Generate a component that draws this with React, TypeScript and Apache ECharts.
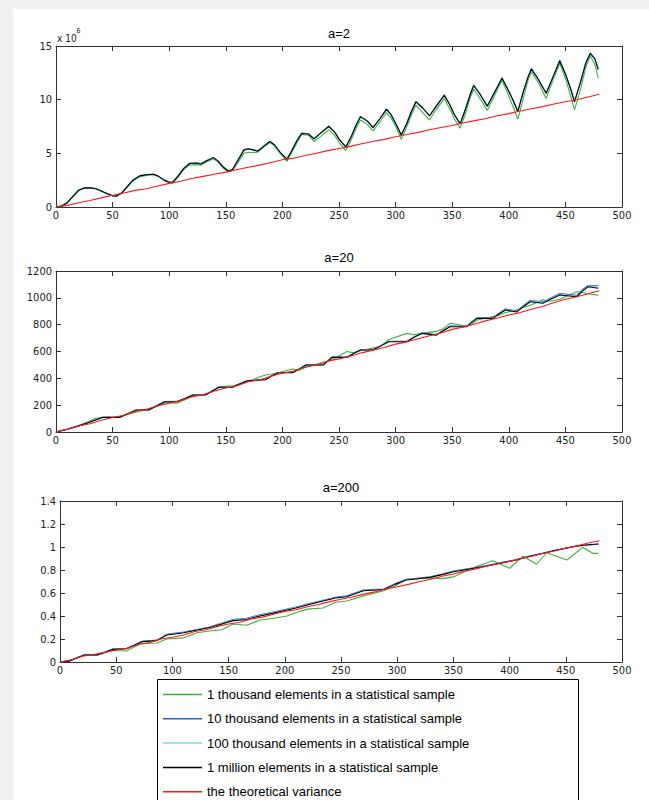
import React, { useEffect, useRef } from "react";
import * as echarts from "echarts";

// ---------- data ----------
const seriesNames = [
  "1 thousand elements in a statistical sample",
  "10 thousand elements in a statistical sample",
  "100 thousand elements in a statistical sample",
  "1 million elements in a statistical sample",
  "the theoretical variance",
];
const seriesColors = ["#3cb43c", "#2a5fd6", "#8ad4ec", "#000000", "#ff1a1a"];
const titles = ["a=2", "a=20", "a=200"];

const redX = [0,10,20,30,40,50,60,70,80,90,100,110,120,130,140,150,160,170,180,190,200,210,220,230,240,250,260,270,280,290,300,310,320,330,340,350,360,370,380,390,400,410,420,430,440,450,460,470,480];

// a = 2 (values x 10^6)
const a2X = [0,5,10,15,20,25,30,35,40,45,50,53,58,63,68,74,80,86,90,95,100,103,108,113,118,124,128,133,139,143,148,152,156,161,166,170,175,178,184,189,193,198,204,208,213,217,223,228,234,241,246,251,256,261,265,269,275,280,286,292,296,301,305,310,314,318,324,330,336,343,348,352,357,362,366,369,374,381,387,394,399,404,408,413,417,420,426,433,439,445,450,455,458,463,468,472,476,479];
const a2Green = [0,0.1,0.4,1.0,1.55,1.75,1.76,1.7,1.48,1.22,1.02,0.98,1.25,1.85,2.45,2.82,2.95,3.0,2.85,2.5,2.25,2.22,2.8,3.5,3.9,3.95,3.9,4.2,4.5,4.2,3.6,3.25,3.4,4.2,5.0,5.1,5.05,5.1,5.6,6.0,5.7,5.0,4.25,5.0,6.0,6.75,6.7,6.1,6.6,7.2,6.7,5.9,5.25,6.3,7.3,8.1,7.7,7.1,7.9,8.8,8.3,7.3,6.3,7.5,8.6,9.5,8.8,8.1,9.1,10.1,9.1,8.2,7.33,8.8,10.2,11.0,10.2,9.0,10.3,11.8,10.6,9.3,8.2,10.2,11.8,12.6,11.6,10.1,11.8,13.4,12.0,10.2,9.05,10.8,13.0,14.1,13.3,12.0];
const a2Blue = [0,0.1,0.42,1.02,1.57,1.8,1.8,1.7,1.48,1.24,1.04,1.0,1.32,1.92,2.52,2.92,3.02,3.05,2.88,2.55,2.3,2.32,2.92,3.62,4.08,4.12,4.02,4.32,4.62,4.28,3.7,3.36,3.52,4.45,5.35,5.45,5.32,5.2,5.72,6.12,5.78,5.08,4.44,5.22,6.25,6.9,6.82,6.35,6.92,7.55,7.0,6.18,5.6,6.62,7.65,8.45,8.05,7.42,8.22,9.15,8.6,7.6,6.68,7.82,8.95,9.85,9.25,8.5,9.42,10.45,9.5,8.58,7.72,9.22,10.55,11.4,10.62,9.38,10.62,12.05,11.0,9.88,8.88,10.82,12.15,12.95,11.92,10.58,12.12,13.7,12.42,10.88,9.78,11.52,13.45,14.35,13.85,12.9];
const a2Cyan = [0,0.1,0.41,1.01,1.56,1.79,1.79,1.71,1.49,1.25,1.05,1.01,1.31,1.91,2.51,2.91,3.01,3.04,2.89,2.56,2.31,2.31,2.91,3.61,4.06,4.11,4.01,4.31,4.61,4.29,3.71,3.36,3.51,4.42,5.32,5.42,5.31,5.21,5.71,6.11,5.79,5.09,4.45,5.21,6.22,6.87,6.81,6.36,6.91,7.52,7.01,6.19,5.61,6.61,7.62,8.42,8.02,7.41,8.21,9.12,8.61,7.61,6.69,7.81,8.92,9.82,9.22,8.51,9.41,10.42,9.51,8.59,7.74,9.21,10.52,11.35,10.61,9.39,10.61,12.02,11.01,9.89,8.89,10.81,12.12,12.9,11.91,10.59,12.11,13.65,12.41,10.89,9.79,11.51,13.42,14.32,13.82,12.85];
const a2Black = [0,0.1,0.4,1.0,1.55,1.78,1.78,1.72,1.5,1.25,1.05,1.0,1.3,1.9,2.5,2.9,3.0,3.05,2.9,2.55,2.3,2.3,2.9,3.6,4.05,4.1,4.0,4.3,4.6,4.3,3.7,3.35,3.5,4.4,5.3,5.4,5.3,5.2,5.7,6.1,5.8,5.1,4.45,5.2,6.2,6.85,6.8,6.35,6.9,7.5,7.0,6.2,5.6,6.6,7.6,8.4,8.0,7.4,8.2,9.1,8.6,7.6,6.7,7.8,8.9,9.8,9.2,8.5,9.4,10.4,9.5,8.6,7.75,9.2,10.5,11.3,10.6,9.4,10.6,12.0,11.0,9.9,8.9,10.8,12.1,12.85,11.9,10.6,12.1,13.6,12.4,10.9,9.8,11.5,13.4,14.3,13.8,12.8];
const a2Red = [0,0.15,0.4,0.6,0.85,1.1,1.3,1.55,1.7,1.95,2.2,2.4,2.65,2.85,3.05,3.25,3.5,3.7,3.9,4.15,4.4,4.55,4.8,5.0,5.25,5.45,5.65,5.9,6.1,6.3,6.55,6.75,6.95,7.2,7.4,7.6,7.85,8.05,8.25,8.5,8.7,8.95,9.15,9.35,9.6,9.8,10.0,10.25,10.5];

// a = 20
const a20X = [0,10,20,27,35,41,56,63,71,82,89,96,107,114,121,132,138,144,156,162,169,185,190,196,209,215,221,236,240,244,257,263,269,280,287,294,310,316,323,336,342,348,363,367,372,386,391,397,407,413,419,430,437,445,460,465,470,479];
const a20Green = [0,22,50,70,102,108,112,130,150,170,190,218,215,240,268,280,300,338,345,355,375,425,430,440,470,460,485,520,525,540,600,590,605,625,640,690,735,725,735,750,770,810,790,800,835,860,870,890,910,930,945,985,975,990,1045,1040,1030,1020];
const a20Blue = [0,21,46,66,92,110,110,136,165,166,196,227,228,251,278,278,306,334,335,360,384,392,417,444,444,472,502,501,530,560,558,588,614,614,645,676,676,708,738,726,758,790,790,820,852,852,884,918,902,944,982,968,998,1032,1018,1062,1092,1090];
const a20Cyan = [0,20,45,66,91,110,109,135,165,165,196,226,227,250,277,277,305,334,334,359,383,391,416,443,443,471,500,500,529,558,557,586,612,612,643,674,675,706,736,724,756,787,787,817,849,850,880,912,898,940,977,964,994,1026,1012,1056,1088,1082];
const a20Black = [0,20,45,65,90,109,109,135,164,164,195,226,226,250,276,276,305,333,333,358,382,390,415,442,442,470,499,499,528,557,556,585,611,611,642,673,673,705,735,722,755,785,785,815,847,847,878,909,895,935,971,960,990,1021,1008,1050,1083,1071];
const a20Red = [0,20,45,62,88,108,125,155,170,195,215,235,262,280,305,328,345,375,390,415,438,455,482,500,528,545,565,590,610,630,655,672,695,718,738,765,782,805,830,850,872,890,915,935,965,990,1008,1030,1053];

// a = 200
const a200X = [0,9,15,22,33,40,47,59,66,73,86,95,110,122,133,144,154,166,178,190,202,210,220,234,245,255,270,288,298,308,329,340,350,368,380,394,405,418,430,442,460,470,479];
const a200GreenX = [0,9,15,22,33,40,47,59,66,73,86,95,110,122,133,144,154,166,178,190,202,210,220,234,245,255,270,288,298,308,329,340,350,365,385,400,412,424,433,451,465,474,479];
const a200Green = [0,0.01,0.04,0.065,0.06,0.08,0.1,0.095,0.13,0.16,0.165,0.2,0.21,0.255,0.27,0.28,0.33,0.32,0.365,0.38,0.4,0.43,0.46,0.47,0.52,0.53,0.575,0.62,0.66,0.72,0.73,0.725,0.74,0.81,0.88,0.815,0.92,0.85,0.95,0.887,0.997,0.945,0.945];
const a200Blue = [0,0.01,0.036,0.062,0.063,0.087,0.112,0.118,0.148,0.18,0.19,0.24,0.26,0.283,0.305,0.338,0.37,0.38,0.41,0.435,0.46,0.478,0.503,0.537,0.562,0.575,0.625,0.635,0.68,0.718,0.74,0.765,0.79,0.82,0.84,0.868,0.888,0.922,0.947,0.975,1.008,1.018,1.024];
const a200Cyan = [0,0.01,0.035,0.061,0.062,0.086,0.111,0.116,0.146,0.178,0.188,0.237,0.257,0.28,0.302,0.334,0.365,0.375,0.405,0.43,0.456,0.474,0.5,0.534,0.559,0.571,0.622,0.632,0.677,0.715,0.738,0.762,0.787,0.817,0.837,0.866,0.886,0.921,0.946,0.975,1.008,1.019,1.025];
const a200Black = [0,0.01,0.035,0.061,0.061,0.085,0.11,0.115,0.145,0.177,0.186,0.235,0.255,0.278,0.3,0.33,0.36,0.37,0.4,0.425,0.452,0.47,0.496,0.53,0.556,0.568,0.62,0.63,0.675,0.713,0.736,0.76,0.785,0.815,0.835,0.864,0.885,0.92,0.945,0.974,1.009,1.02,1.026];
const a200Red = [0,0.02,0.05,0.065,0.085,0.105,0.12,0.155,0.17,0.2,0.215,0.235,0.265,0.28,0.31,0.33,0.345,0.375,0.39,0.415,0.44,0.455,0.48,0.5,0.525,0.545,0.565,0.59,0.61,0.635,0.655,0.675,0.7,0.72,0.745,0.765,0.79,0.81,0.835,0.855,0.875,0.9,0.92,0.945,0.965,0.99,1.01,1.035,1.055];

const yMax = [15, 1200, 1.4];
const yInterval = [5, 200, 0.2];

// ---------- layout ----------
const grids = [
  { left: 56, top: 46, width: 566, height: 161 },
  { left: 56, top: 271, width: 566, height: 161 },
  { left: 60, top: 501, width: 562, height: 161 },
];
const titleY = [27, 251, 481];

const zip = (xs: number[], ys: number[]) => xs.map((x, i) => [x, ys[i]]);

export default function App() {
  const ref = useRef<HTMLDivElement>(null);
  useEffect(() => {
    const chart = echarts.init(ref.current!, null, { renderer: "svg" });
    const labelFont = "'Liberation Sans Narrow', 'Arial Narrow', 'DejaVu Sans Condensed', sans-serif";
    const axisColor = "#333";
    const xAxes: any[] = [];
    const yAxes: any[] = [];
    const chartSeries = [
      [zip(a2X, a2Green), zip(a2X, a2Blue), zip(a2X, a2Cyan), zip(a2X, a2Black), zip(redX, a2Red)],
      [zip(a20X, a20Green), zip(a20X, a20Blue), zip(a20X, a20Cyan), zip(a20X, a20Black), zip(redX, a20Red)],
      [zip(a200GreenX, a200Green), zip(a200X, a200Blue), zip(a200X, a200Cyan), zip(a200X, a200Black), zip(redX, a200Red)],
    ];
    const series: any[] = [];
    grids.forEach((g, i) => {
      const common = {
        gridIndex: i,
        type: "value",
        axisLine: { show: true, onZero: false, lineStyle: { color: axisColor, width: 1 } },
        axisTick: { show: true, inside: true, length: 5, lineStyle: { color: axisColor } },
        splitLine: { show: false },
      };
      xAxes.push({
        ...common,
        position: "bottom",
        min: 0,
        max: 500,
        interval: 50,
        axisLabel: { show: true, margin: 3, fontSize: 11, color: "#222", fontFamily: labelFont },
      });
      xAxes.push({ ...common, position: "top", min: 0, max: 500, interval: 50, axisLabel: { show: false } });
      yAxes.push({
        ...common,
        position: "left",
        min: 0,
        max: yMax[i],
        interval: yInterval[i],
        axisLabel: {
          show: true,
          margin: 4,
          fontSize: 11,
          color: "#222",
          fontFamily: labelFont,
          formatter: (v: number) => String(Math.round(v * 100) / 100),
        },
      });
      yAxes.push({ ...common, position: "right", min: 0, max: yMax[i], interval: yInterval[i], axisLabel: { show: false } });
      chartSeries[i].forEach((d, k) => {
        series.push({
          type: "line",
          name: seriesNames[k],
          xAxisIndex: i * 2,
          yAxisIndex: i * 2,
          data: d,
          showSymbol: false,
          symbol: "none",
          color: seriesColors[k],
          itemStyle: { color: seriesColors[k] },
          lineStyle: { color: seriesColors[k], width: 1.1 },
          z: 2 + k,
        });
      });
    });

    const option: any = {
      animation: false,
      backgroundColor: "#f0f0f0",
      grid: grids.map((g) => ({ ...g, containLabel: false })),
      xAxis: xAxes,
      yAxis: yAxes,
      series,
      legend: {
        data: seriesNames.map((n, k) => ({ name: n, icon: "rect", itemStyle: { color: seriesColors[k] } })),
        orient: "vertical",
        left: 163,
        top: 688,
        padding: 0,
        itemGap: 11.3,
        itemWidth: 39,
        itemHeight: 1.5,
        selectedMode: false,
        z: 6,
        textStyle: { fontSize: 13, color: "#000", fontFamily: "'Liberation Sans', Arial, sans-serif" },
      },
      graphic: [
        { type: "rect", z: -10, shape: { x: 13, y: 9, width: 636, height: 791 }, style: { fill: "#ffffff" }, silent: true },
        {
          type: "rect",
          z: 1,
          shape: { x: 157.5, y: 679.5, width: 421, height: 130 },
          style: { fill: "#ffffff", stroke: "#000", lineWidth: 1 },
          silent: true,
        },
        ...titles.map((t, i) => ({
          type: "text",
          z: 5,
          x: grids[i].left + grids[i].width / 2,
          y: titleY[i],
          style: { text: t, fontSize: 13, fill: "#000", align: "center", fontFamily: "'Liberation Sans', Arial, sans-serif" },
        })),
        {
          type: "text",
          z: 5,
          x: 57,
          y: 27,
          style: {
            text: "{a|x 10}{b|6}",
            rich: {
              a: { fontSize: 10, fill: "#222", fontFamily: labelFont, padding: [6, 0, 0, 0] },
              b: { fontSize: 7, fill: "#222", fontFamily: labelFont, verticalAlign: "top" },
            },
          },
        },
      ],
    };
    chart.setOption(option);
    return () => chart.dispose();
  }, []);
  return <div ref={ref} style={{ position: "fixed", left: 0, top: 0, width: 649, height: 800 }} />;
}
